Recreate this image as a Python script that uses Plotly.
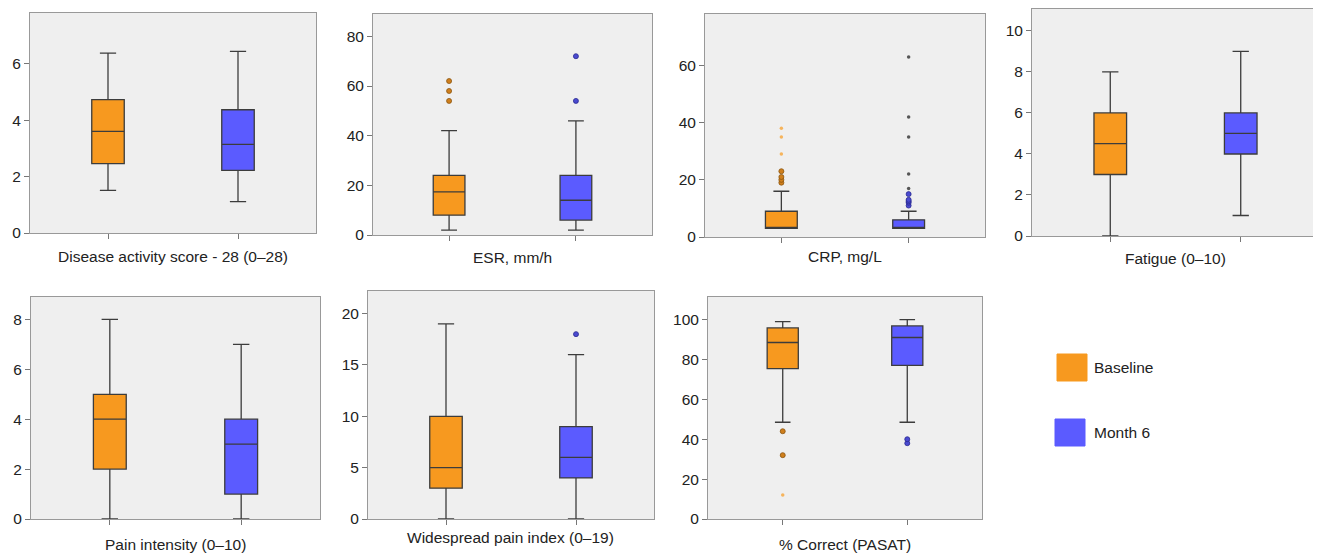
import plotly.graph_objects as go

# ---- data ----
panels = ["Disease activity score - 28 (0–28)", "ESR, mm/h", "CRP, mg/L", "Fatigue (0–10)",
          "Pain intensity (0–10)", "Widespread pain index (0–19)", "% Correct (PASAT)"]
groups = ["Baseline", "Month 6"]

base_q1 = [2.46, 8, 3, 3, 2, 3, 75.4]
base_med = [3.6, 17.4, 3, 4.5, 4, 5, 88.5]
base_q3 = [4.73, 24, 9, 6, 5, 10, 95.8]
base_lo = [1.51, 2, 3, 0, 0, 0, 48.5]
base_hi = [6.38, 42, 16, 8, 8, 19, 99]
base_out = [[], [54, 58, 62], [19, 20, 21, 23], [], [], [], [44, 32]]
base_ext = [[], [], [29, 35, 38], [], [], [], [12]]

m6_q1 = [2.22, 6, 3, 4, 1, 4, 77]
m6_med = [3.14, 14, 3, 5, 3, 6, 91]
m6_q3 = [4.37, 24, 6, 6, 4, 9, 96.8]
m6_lo = [1.11, 2, 3, 1, 0, 0, 48.5]
m6_hi = [6.44, 46, 9, 9, 7, 16, 100]
m6_out = [[], [54, 72], [11, 12, 12.5, 13, 15], [], [], [18], [38, 40]]
m6_ext = [[], [], [17, 22, 35, 42, 63], [], [], [], []]

y_max = [7.8, 89, 78, 11.07, 8.9, 22.2, 111.3]
y_dtick = [2, 20, 20, 2, 2, 5, 20]

# ---- layout geometry (page pixels; page body has an 8px margin) ----
OFF = 8
W, H = 1313, 546
boxes_px = [(30, 316, 13, 233), (373, 652, 14, 235), (705, 985, 14, 237), (1032, 1319, 9, 236),
            (31, 320, 297, 519), (368, 654, 291, 519), (708, 982, 297, 519)]
title_y_px = [257, 258, 257, 259, 544, 537, 544]


def px_x(p):
    return (p - OFF) / W


def px_y(p):
    return 1 - (p - OFF) / H


ORANGE = "#F7991F"
BLUE = "#5B5BFF"
FONT = "Liberation Sans, Arial, sans-serif"

fig = go.Figure()
layout = dict(width=W, height=H, margin=dict(l=0, r=0, t=0, b=0, autoexpand=False),
              paper_bgcolor="white", showlegend=False,
              font=dict(family=FONT, size=15, color="#222"))
annotations = []
shapes = []

for i in range(len(panels)):
    n = "" if i == 0 else str(i + 1)
    xa, ya = "x" + n, "y" + n
    x0, x1, y0, y1 = boxes_px[i]
    layout["xaxis" + n] = dict(domain=[px_x(x0), px_x(x1)], anchor=ya, range=[-0.6, 1.6],
                               tickvals=[0, 1], ticktext=["", ""], ticks="outside", ticklen=5,
                               tickcolor="#777", showline=True, mirror=True, linecolor="#999",
                               showgrid=False, zeroline=False, fixedrange=True, automargin=False)
    layout["yaxis" + n] = dict(domain=[px_y(y1), px_y(y0)], anchor=xa, range=[0, y_max[i]],
                               dtick=y_dtick[i], tick0=0, ticks="outside", ticklen=5,
                               tickcolor="#777", showline=True, mirror=True, linecolor="#999",
                               showgrid=False, zeroline=False, automargin=False,
                               tickfont=dict(size=15.5, color="#222"))
    stats = [
        (0, base_q1, base_med, base_q3, base_lo, base_hi, ORANGE),
        (1, m6_q1, m6_med, m6_q3, m6_lo, m6_hi, BLUE),
    ]
    for pos, q1, med, q3, lo, hi, col in stats:
        fig.add_trace(go.Box(x=[pos], q1=[q1[i]], median=[med[i]], q3=[q3[i]],
                             lowerfence=[lo[i]], upperfence=[hi[i]], width=0.25,
                             whiskerwidth=0.5, fillcolor=col, boxpoints=False,
                             line=dict(color="#3c3c3c", width=1.3),
                             name=groups[pos], xaxis=xa, yaxis=ya))
    if base_out[i]:
        fig.add_trace(go.Scatter(x=[0] * len(base_out[i]), y=base_out[i], mode="markers",
                                 marker=dict(color="#D07F1C", size=5, line=dict(color="#8A5510", width=0.8)),
                                 xaxis=xa, yaxis=ya))
    if base_ext[i]:
        fig.add_trace(go.Scatter(x=[0] * len(base_ext[i]), y=base_ext[i], mode="markers",
                                 marker=dict(color="#F6B45C", size=3.5),
                                 xaxis=xa, yaxis=ya))
    if m6_out[i]:
        fig.add_trace(go.Scatter(x=[1] * len(m6_out[i]), y=m6_out[i], mode="markers",
                                 marker=dict(color="#4A4AD0", size=5, line=dict(color="#2A2A90", width=0.8)),
                                 xaxis=xa, yaxis=ya))
    if m6_ext[i]:
        fig.add_trace(go.Scatter(x=[1] * len(m6_ext[i]), y=m6_ext[i], mode="markers",
                                 marker=dict(color="#555555", size=3.5),
                                 xaxis=xa, yaxis=ya))
    annotations.append(dict(text=panels[i], xref="paper", yref="paper",
                            x=px_x((x0 + x1) / 2), y=px_y(title_y_px[i]),
                            xanchor="center", yanchor="middle", showarrow=False,
                            font=dict(size=15.5, color="#222")))

# legend drawn as swatches + labels
legend_items = [(groups[0], ORANGE, 1057, 1087, 354, 381), (groups[1], BLUE, 1055, 1085, 419, 446)]
for label, col, lx0, lx1, ly0, ly1 in legend_items:
    shapes.append(dict(type="rect", xref="paper", yref="paper",
                       x0=px_x(lx0), x1=px_x(lx1), y0=px_y(ly1), y1=px_y(ly0),
                       fillcolor=col, line=dict(color=col, width=1)))
    annotations.append(dict(text=label, xref="paper", yref="paper",
                            x=px_x(1092), y=px_y((ly0 + ly1) / 2), xanchor="left", yanchor="middle",
                            showarrow=False, font=dict(size=15.5, color="#222")))

layout["annotations"] = annotations
layout["shapes"] = shapes
layout["plot_bgcolor"] = "#EFEFEF"
fig.update_layout(**layout)
fig.write_html("out.html")
